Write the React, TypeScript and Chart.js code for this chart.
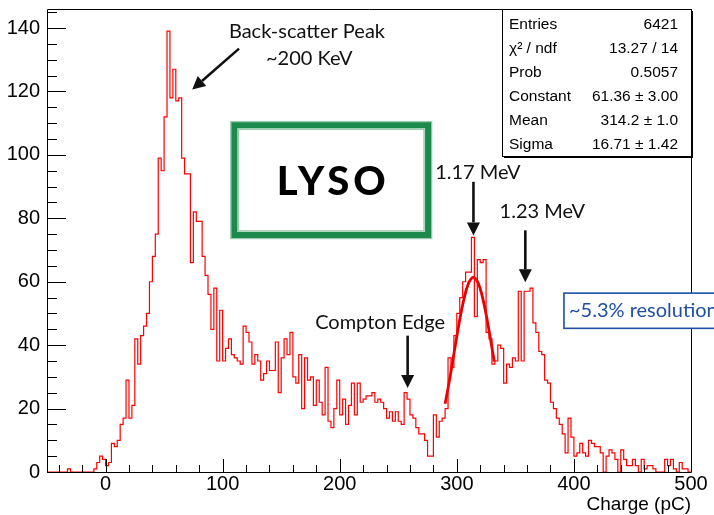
import React, { useEffect, useRef } from "react";
import { Chart, registerables } from "chart.js";
Chart.register(...registerables);

// ---- data ----
const xMin = -50;
const xMax = 500;
const binWidth = 2.5;
const yMax = 146;
// counts per 2.5 pC bin, grouped by 25 pC
const counts = [
  0, 0, 0, 0, 0, 0, 0, 1, 0, 0,
  0, 0, 0, 0, 0, 0, 1, 3, 5, 4,
  2, 3, 9, 8, 10, 15, 17, 29, 17, 21,
  42, 34, 43, 46, 50, 60, 68, 75, 99, 95,
  112, 139, 118, 127, 117, 118, 99, 94, 94, 66,
  82, 79, 79, 68, 62, 56, 45, 58, 35, 51,
  35, 39, 42, 37, 36, 35, 34, 46, 44, 41,
  34, 37, 35, 29, 31, 35, 32, 32, 41, 25,
  36, 42, 37, 44, 30, 28, 37, 20, 36, 29,
  30, 21, 29, 22, 18, 33, 16, 14, 20, 29,
  18, 23, 15, 21, 28, 18, 28, 22, 23, 24,
  24, 25, 22, 23, 22, 20, 17, 19, 16, 19,
  16, 15, 25, 23, 18, 17, 14, 12, 12, 10,
  5, 5, 18, 11, 16, 17, 20, 36, 33, 43,
  50, 55, 60, 63, 63, 74, 49, 67, 66, 67,
  44, 42, 34, 35, 40, 39, 28, 34, 33, 36,
  35, 57, 35, 57, 57, 58, 47, 44, 38, 37,
  29, 28, 22, 20, 17, 15, 12, 6, 17, 11,
  5, 6, 9, 6, 5, 10, 9, 8, 8, 6,
  0, 5, 7, 6, 4, 0, 7, 4, 2, 2,
  4, 2, 0, 4, 1, 2, 2, 1, 0, 0,
  0, 4, 2, 4, 1, 0, 3, 1, 1, 0,
];
// gaussian fit curve
const fitX = [290, 294, 298, 302, 306, 310, 314, 318, 322, 326, 330, 332];
const fitY = [21.5, 29.5, 38.4, 47.0, 54.4, 59.5, 61.4, 59.8, 55.0, 47.8, 39.2, 34.8];

const xLabelTicks = [0, 100, 200, 300, 400, 500];
const yLabelTicks = [0, 20, 40, 60, 80, 100, 120, 140];
const xMinorStep = 20;
const yMinorStep = 5;

const statsRows = [
  ["Entries", "6421"],
  ["\u03C7\u00B2 / ndf", "13.27 / 14"],
  ["Prob", "0.5057"],
  ["Constant", "61.36 \u00B1 3.00"],
  ["Mean", "314.2 \u00B1 1.0"],
  ["Sigma", "16.71 \u00B1 1.42"],
];

const HELV = '"Liberation Sans", Arial, sans-serif';
const GILL = 'Lato, "Open Sans", sans-serif';

function arrow(ctx: CanvasRenderingContext2D, x1: number, y1: number, x2: number, y2: number) {
  const head = 13, hw = 6.5;
  const ang = Math.atan2(y2 - y1, x2 - x1);
  const bx = x2 - head * Math.cos(ang), by = y2 - head * Math.sin(ang);
  ctx.lineWidth = 2.6;
  ctx.beginPath(); ctx.moveTo(x1, y1); ctx.lineTo(bx, by); ctx.stroke();
  ctx.beginPath();
  ctx.moveTo(x2, y2);
  ctx.lineTo(bx + hw * Math.sin(ang), by - hw * Math.cos(ang));
  ctx.lineTo(bx - hw * Math.sin(ang), by + hw * Math.cos(ang));
  ctx.closePath(); ctx.fill();
}

const rootPlugin = {
  id: "rootFrame",
  afterDraw(chart: any) {
    const { ctx, chartArea: a, scales } = chart;
    const xs = scales.x, ys = scales.y;
    const X = (v: number) => xs.getPixelForValue(v);
    const Y = (v: number) => ys.getPixelForValue(v);
    ctx.save();
    ctx.strokeStyle = "#000"; ctx.fillStyle = "#000"; ctx.lineWidth = 1;
    // frame
    ctx.beginPath();
    ctx.rect(Math.round(a.left) + 0.5, Math.round(a.top) + 0.5, Math.round(a.right - a.left), Math.round(a.bottom - a.top));
    ctx.stroke();
    // x ticks (inside)
    for (let v = xMin + 10; v <= xMax; v += xMinorStep) {
      const px = Math.round(X(v)) + 0.5;
      const len = v % 100 === 0 ? 13 : 7;
      ctx.beginPath(); ctx.moveTo(px, a.bottom); ctx.lineTo(px, a.bottom - len); ctx.stroke();
    }
    // y ticks (inside)
    for (let v = 0; v <= yMax; v += yMinorStep) {
      const py = Math.round(Y(v)) + 0.5;
      const len = v % 20 === 0 ? 19 : 10;
      ctx.beginPath(); ctx.moveTo(a.left, py); ctx.lineTo(a.left + len, py); ctx.stroke();
    }
    // axis title
    ctx.font = `19px ${HELV}`;
    ctx.textAlign = "right"; ctx.textBaseline = "middle";
    ctx.fillText("Charge (pC)", a.right, 505);

    // annotations
    ctx.fillStyle = "#111"; ctx.strokeStyle = "#111";
    ctx.font = `20px ${GILL}`;
    ctx.textAlign = "center";
    ctx.fillText("Back-scatter Peak", X(172), Y(138.8));
    ctx.fillText("~200 KeV", X(174), Y(130.5));
    arrow(ctx, X(114), Y(133.5), X(74), Y(120.6));

    ctx.textAlign = "left";
    ctx.fillText("Compton Edge", X(179), Y(47.2));
    arrow(ctx, X(258), Y(43), X(258), Y(26.5));

    ctx.fillText("1.17 MeV", X(281.5), Y(94.5));
    arrow(ctx, X(314.2), Y(91.5), X(314.2), Y(74.6));

    ctx.fillText("1.23 MeV", X(336.5), Y(82));
    arrow(ctx, X(358.5), Y(76.2), X(358.5), Y(59.8));

    // LYSO box
    const bx1 = X(107.5), bx2 = X(278), by1 = Y(110.3), by2 = Y(73.8);
    ctx.strokeStyle = "#1c8a4c";
    ctx.lineWidth = 6;
    ctx.strokeRect(bx1 + 3, by1 + 3, bx2 - bx1 - 6, by2 - by1 - 6);
    ctx.globalAlpha = 0.45; ctx.lineWidth = 1.5;
    ctx.strokeRect(bx1 - 0.5, by1 - 0.5, bx2 - bx1 + 1, by2 - by1 + 1);
    ctx.strokeRect(bx1 + 7, by1 + 7, bx2 - bx1 - 14, by2 - by1 - 14);
    ctx.globalAlpha = 1;
    ctx.fillStyle = "#000";
    ctx.font = `900 40px ${GILL}`;
    ctx.textAlign = "center";
    (ctx as any).letterSpacing = "4px";
    ctx.fillText("LYSO", (bx1 + bx2) / 2 + 2, (by1 + by2) / 2 + 2);
    (ctx as any).letterSpacing = "0px";

    // resolution box
    const rx = X(391.5), ry1 = Y(56.4), ry2 = Y(45.3);
    ctx.fillStyle = "#fff";
    ctx.fillRect(rx, ry1, 714 - rx + 5, ry2 - ry1);
    ctx.strokeStyle = "#1f4fa3"; ctx.lineWidth = 1.6;
    ctx.strokeRect(rx, ry1, 714 - rx + 5, ry2 - ry1);
    ctx.fillStyle = "#1f4fa3";
    ctx.font = `20px ${GILL}`;
    ctx.textAlign = "left";
    ctx.fillText("~5.3% resolution", rx + 5, (ry1 + ry2) / 2);

    // stats box
    const sL = 502, sR = Math.round(a.right), sT = Math.round(a.top), sB = 156;
    ctx.fillStyle = "#000";
    ctx.fillRect(sL + 2, sT + 2, sR - sL, sB - sT);
    ctx.fillStyle = "#fff";
    ctx.fillRect(sL, sT, sR - sL, sB - sT);
    ctx.strokeStyle = "#000"; ctx.lineWidth = 1;
    ctx.strokeRect(sL + 0.5, sT + 0.5, sR - sL, sB - sT);
    ctx.fillStyle = "#000";
    ctx.font = `15.5px ${HELV}`;
    statsRows.forEach((r, i) => {
      const yy = 25 + i * 24;
      ctx.textAlign = "left"; ctx.fillText(r[0], 509, yy);
      ctx.textAlign = "right"; ctx.fillText(r[1], 678, yy);
    });
    ctx.restore();
  },
};

export default function App() {
  const ref = useRef<HTMLCanvasElement>(null);
  useEffect(() => {
    const canvas = ref.current!;
    const histPts = counts.map((c, i) => ({ x: xMin + i * binWidth, y: c }));
    histPts.push({ x: xMax, y: counts[counts.length - 1] });
    const fitPts = fitX.map((x, i) => ({ x, y: fitY[i] }));
    const chart = new Chart(canvas, {
      type: "line",
      data: {
        datasets: [
          {
            data: histPts,
            borderColor: "#ff0000",
            borderWidth: 1.2,
            stepped: true,
            pointRadius: 0,
            fill: false,
          },
          {
            data: fitPts,
            borderColor: "#e60000",
            borderWidth: 2.8,
            tension: 0.4,
            pointRadius: 0,
            fill: false,
          },
        ],
      },
      options: {
        responsive: false,
        animation: false,
        devicePixelRatio: 1,
        layout: { padding: { left: 0, top: 9, right: 23, bottom: 0 } },
        plugins: { legend: { display: false }, tooltip: { enabled: false } },
        scales: {
          x: {
            type: "linear",
            min: xMin,
            max: xMax,
            afterBuildTicks: (s: any) => { s.ticks = xLabelTicks.map((v) => ({ value: v })); },
            afterFit: (s: any) => { s.height = 43; s.paddingLeft = 0; s.paddingRight = 0; },
            grid: { display: false, drawTicks: false },
            border: { display: false },
            ticks: {
              autoSkip: false, maxRotation: 0, padding: 0, color: "#000",
              font: { family: HELV, size: 20 },
              callback: (v: any) => String(v),
            },
          },
          y: {
            min: 0,
            max: yMax,
            afterBuildTicks: (s: any) => { s.ticks = yLabelTicks.map((v) => ({ value: v })); },
            afterFit: (s: any) => { s.width = 47; s.paddingTop = 0; s.paddingBottom = 0; },
            grid: { display: false, drawTicks: false },
            border: { display: false },
            ticks: {
              autoSkip: false, padding: 7, color: "#000",
              font: { family: HELV, size: 20 },
              callback: (v: any) => String(v),
            },
          },
        },
      },
      plugins: [rootPlugin],
    } as any);
    return () => chart.destroy();
  }, []);
  return (
    <div style={{ position: "fixed", left: 0, top: 0, width: 714, height: 515, background: "#fff" }}>
      <canvas ref={ref} width={714} height={515} style={{ width: 714, height: 515, display: "block" }} />
    </div>
  );
}
